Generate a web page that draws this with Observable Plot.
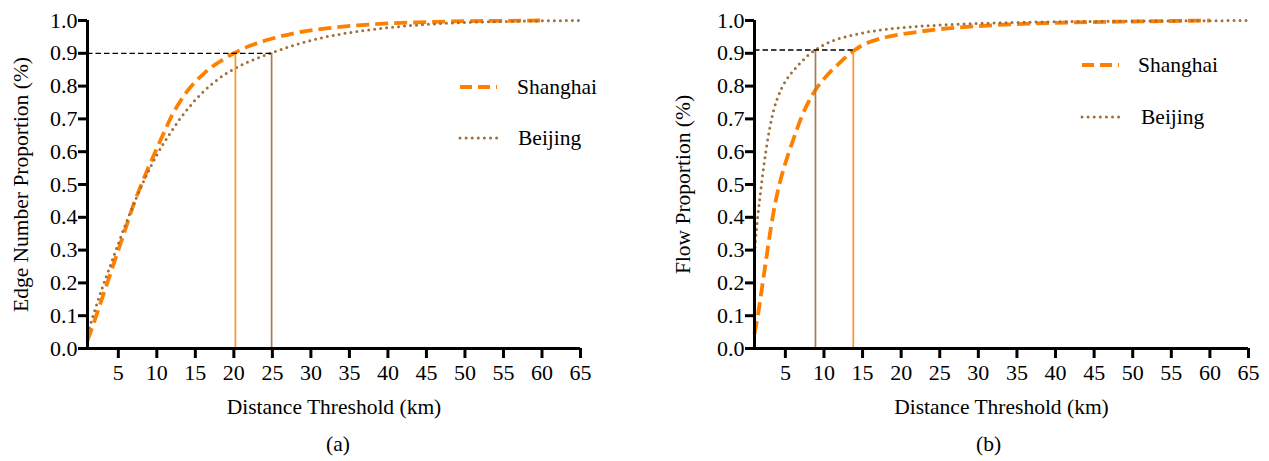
<!DOCTYPE html>
<html>
<head>
<meta charset="utf-8">
<script src="https://cdn.jsdelivr.net/npm/d3@7"></script>
<script src="https://cdn.jsdelivr.net/npm/@observablehq/plot@0.6"></script>
<style>
  html, body { margin: 0; padding: 0; background: #fff; }
  #wrap { position: relative; width: 1269px; height: 461px; display: flex; overflow: hidden; }
  #wrap svg { display: block; }
  #legend { position: absolute; left: 0; top: 0; pointer-events: none; }
</style>
</head>
<body>
<div id="wrap"></div>
<script>
// ---------- data ----------
const xTicks = [5, 10, 15, 20, 25, 30, 35, 40, 45, 50, 55, 60, 65];
const yTicks = [0, 0.1, 0.2, 0.3, 0.4, 0.5, 0.6, 0.7, 0.8, 0.9, 1.0];
const seriesNames = ["Shanghai", "Beijing"];

// (a) Edge number proportion
const aShanghaiX = [1, 2, 3, 4, 5, 6, 7, 8, 9, 10, 11, 12, 13, 14, 15, 16, 17, 18, 19, 20, 22, 25, 28, 32, 36, 40, 45, 50, 55, 60];
const aShanghaiY = [0.025, 0.09, 0.16, 0.23, 0.30, 0.37, 0.44, 0.50, 0.557, 0.61, 0.662, 0.712, 0.752, 0.786, 0.813, 0.836, 0.856, 0.872, 0.887, 0.90, 0.922, 0.945, 0.962, 0.976, 0.985, 0.991, 0.995, 0.998, 0.999, 1.0];
const aBeijingX = [1, 2, 3, 4, 5, 6, 7, 8, 9, 10, 11, 12, 13, 14, 15, 16, 18, 20, 22, 25, 28, 31, 35, 40, 45, 50, 55, 60, 65];
const aBeijingY = [0.045, 0.12, 0.19, 0.255, 0.32, 0.382, 0.44, 0.495, 0.545, 0.59, 0.63, 0.666, 0.70, 0.73, 0.758, 0.782, 0.822, 0.852, 0.875, 0.902, 0.926, 0.945, 0.963, 0.978, 0.988, 0.994, 0.997, 0.999, 1.0];
const aThresholdX = [20.2, 24.9];   // Shanghai, Beijing
const aLevel = 0.9;

// (b) Flow proportion
const bShanghaiX = [1, 1.5, 2, 2.5, 3, 3.5, 4, 4.5, 5, 6, 7, 8, 9, 10, 11, 12, 13, 14, 15, 16, 18, 20, 23, 26, 30, 35, 40, 50, 60];
const bShanghaiY = [0.045, 0.11, 0.19, 0.27, 0.35, 0.42, 0.478, 0.525, 0.565, 0.635, 0.70, 0.752, 0.792, 0.822, 0.848, 0.87, 0.892, 0.91, 0.925, 0.935, 0.949, 0.958, 0.968, 0.976, 0.983, 0.989, 0.993, 0.997, 1.0];
const bBeijingX = [1, 1.25, 1.5, 1.75, 2, 2.5, 3, 3.5, 4, 4.5, 5, 6, 7, 8, 9, 10, 12, 14, 17, 20, 25, 30, 40, 50, 65];
const bBeijingY = [0.29, 0.36, 0.42, 0.47, 0.52, 0.605, 0.675, 0.728, 0.765, 0.793, 0.814, 0.846, 0.872, 0.895, 0.912, 0.926, 0.945, 0.957, 0.97, 0.978, 0.986, 0.991, 0.996, 0.998, 1.0];
const bThresholdX = [13.8, 8.9];    // Shanghai, Beijing
const bLevel = 0.91;

// ---------- styles ----------
const FONT = "Liberation Serif, serif";
const colors = {Shanghai: "#ff8000", Beijing: "#a0703c"};
const ruleColors = {Shanghai: "#ff9326", Beijing: "#a87c50"};
const dash = {Shanghai: "13,6", Beijing: "0,6"};
const cap = {Shanghai: "butt", Beijing: "round"};
const widths = {Shanghai: 3.8, Beijing: 3};

function toRows(xs, ys, name) { return xs.map((x, i) => ({x, y: ys[i], name})); }

function panel({width, marginLeft, marginRight, sh, bj, thresholds, level, yLabel, yLabelDx, caption, captionDx}) {
  const thr = seriesNames.map((name, i) => ({name, x: thresholds[i]}));
  const lineMark = (rows, name) => Plot.line(rows, {
    x: "x", y: "y", stroke: colors[name], strokeWidth: widths[name],
    strokeDasharray: dash[name], strokeLinecap: cap[name], curve: "monotone-x"
  });
  return Plot.plot({
    width, height: 461,
    marginLeft, marginRight, marginTop: 20, marginBottom: 113,
    x: {domain: [1, 65]},
    y: {domain: [0, 1]},
    style: {fontFamily: FONT, fontSize: "21px", color: "#000", background: "#fff", overflow: "visible"},
    marks: [
      lineMark(sh, "Shanghai"),
      lineMark(bj, "Beijing"),
      Plot.ruleX(thr, {x: "x", y1: 0, y2: level, stroke: d => ruleColors[d.name], strokeWidth: 1.7}),
      Plot.ruleY([level], {x1: 1, x2: d3.max(thresholds), stroke: "#000", strokeWidth: 1.3, strokeDasharray: "5.5,3"}),
      Plot.axisX({ticks: xTicks, tickSize: 10, tickPadding: 6, strokeWidth: 3, fontSize: 22, fontFamily: FONT, label: null}),
      Plot.axisY({ticks: yTicks, tickSize: 9, tickPadding: 1, strokeWidth: 3, fontSize: 22, fontFamily: FONT, tickFormat: d3.format(".1f"), label: null}),
      Plot.ruleY([0], {stroke: "#000", strokeWidth: 3}),
      Plot.ruleX([1], {stroke: "#000", strokeWidth: 3, insetBottom: -1.5}),
      Plot.text(["Distance Threshold (km)"], {text: d => d, frameAnchor: "bottom", textAnchor: "middle", dy: 65, fontSize: 21.5, fontFamily: FONT}),
      Plot.text([caption], {text: d => d, frameAnchor: "bottom", textAnchor: "middle", dy: 102, dx: captionDx, fontSize: 21.5, fontFamily: FONT}),
      Plot.text([yLabel], {text: d => d, frameAnchor: "left", textAnchor: "middle", rotate: -90, dx: yLabelDx, fontSize: 21.5, fontFamily: FONT})
    ]
  });
}

const wrap = document.getElementById("wrap");
wrap.append(panel({
  width: 634, marginLeft: 87, marginRight: 54,
  sh: toRows(aShanghaiX, aShanghaiY, "Shanghai"),
  bj: toRows(aBeijingX, aBeijingY, "Beijing"),
  thresholds: aThresholdX, level: aLevel,
  yLabel: "Edge Number Proportion (%)", yLabelDx: -66,
  caption: "(a)", captionDx: 4
}));
wrap.append(panel({
  width: 635, marginLeft: 120, marginRight: 21,
  sh: toRows(bShanghaiX, bShanghaiY, "Shanghai"),
  bj: toRows(bBeijingX, bBeijingY, "Beijing"),
  thresholds: bThresholdX, level: bLevel,
  yLabel: "Flow Proportion (%)", yLabelDx: -71,
  caption: "(b)", captionDx: -13
}));

// ---------- legends (overlay) ----------
const legendItems = [
  {name: "Shanghai", x: 460, y: 87, tx: 517},
  {name: "Beijing", x: 460, y: 138, tx: 518},
  {name: "Shanghai", x: 1082, y: 65, tx: 1138},
  {name: "Beijing", x: 1082, y: 117, tx: 1141}
];
const lg = d3.create("svg").attr("id", "legend").attr("width", 1269).attr("height", 461);
const g = lg.selectAll("g").data(legendItems).join("g");
g.append("line")
  .attr("x1", d => d.x).attr("x2", d => d.x + 37)
  .attr("y1", d => d.y).attr("y2", d => d.y)
  .attr("stroke", d => colors[d.name]).attr("stroke-width", d => widths[d.name])
  .attr("stroke-dasharray", d => d.name === "Shanghai" ? "12,6" : "0,6.1")
  .attr("stroke-linecap", d => cap[d.name]);
g.append("text")
  .attr("x", d => d.tx).attr("y", d => d.y).attr("dy", "0.32em")
  .attr("font-family", FONT).attr("font-size", 21.5).attr("fill", "#000")
  .text(d => d.name);
wrap.append(lg.node());
</script>
</body>
</html>
